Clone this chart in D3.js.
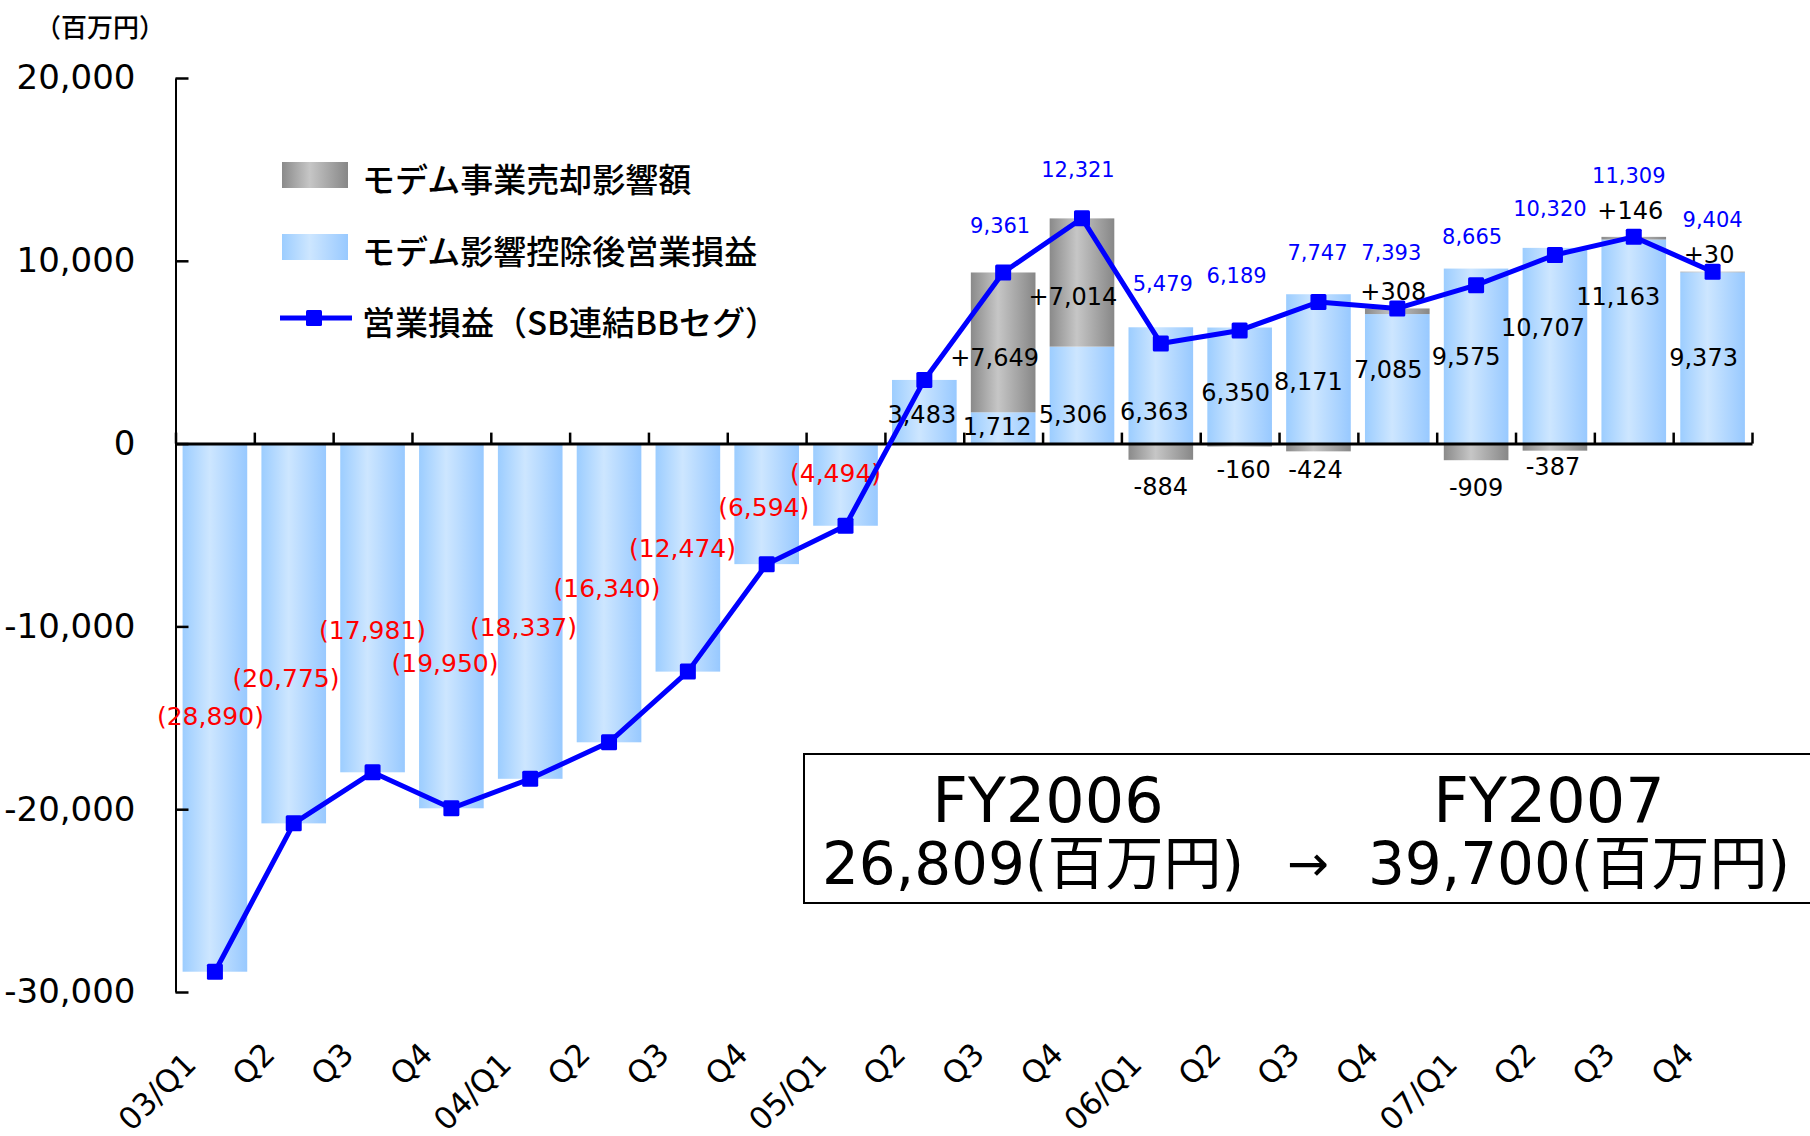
<!DOCTYPE html>
<html><head><meta charset="utf-8">
<script src="https://cdn.jsdelivr.net/npm/d3@7"></script>
<style>body{margin:0;background:#fff}svg{display:block}</style>
</head><body>
<svg id="chart" width="1810" height="1136"></svg>
<script>
// ---------- data ----------
const categories = ["03/Q1","Q2","Q3","Q4","04/Q1","Q2","Q3","Q4","05/Q1","Q2","Q3","Q4","06/Q1","Q2","Q3","Q4","07/Q1","Q2","Q3","Q4"];
// operating income excluding modem impact (blue bars)
const incomeExModem = [-28890,-20775,-17981,-19950,-18337,-16340,-12474,-6594,-4494,3483,1712,5306,6363,6350,8171,7085,9575,10707,11163,9373];
// modem business sale impact (gray bars)
const modemImpact = [0,0,0,0,0,0,0,0,0,0,7649,7014,-884,-160,-424,308,-909,-387,146,30];
// operating income (SB consolidated BB segment) line
const incomeTotal = [-28890,-20775,-17981,-19950,-18337,-16340,-12474,-6594,-4494,3483,9361,12321,5479,6189,7747,7393,8665,10320,11309,9404];
const yTickValues = [-30000,-20000,-10000,0,10000,20000];
const yTickLabels = ["-30,000","-20,000","-10,000","0","10,000","20,000"];
const legendLabels = ["モデム事業売却影響額","モデム影響控除後営業損益","営業損益（SB連結BBセグ）"];
const unitLabel = "（百万円）";
const fyLabels = ["FY2006","FY2007"];
const fyTotals = [26809, 39700];
const fyUnit = "(百万円)";

// ---------- label layout (pixel nudges) ----------
const lossLabelDx = [-4.5,-7.7,0,-6.4,-6.8,-2,-5.4,-3,-10];
const lossLabelDy = [-255,-145,-142,-145,-151,-154,-123,-57,-52];
const totalLabelDx = [-3,-4,2,-3,-1,-6,-4,-5,-5,0];
const totalLabelDy = [-46.5,-48,-59.5,-54.5,-49,-55.5,-48,-46,-61,-51.7];
const barLabelDx = [-2.5,-6,-9,-6.5,-4,-10,-9,-10,-12,-15.5,-9];
const barLabelDy = [-28.6,-16.6,-28.6,-31.6,-50.6,-61.6,-73.6,-86.6,-115.6,-146.6,-85.6];
const modemLabelDx = [-8.5,-9,0,4,-3,-4,0,-2,-3.5,-3.5];
const modemLabelDy = [-85.6,-146.6,43.4,26.4,26.4,-151.6,44.4,23.4,-232.6,-188.6];

const NUM_FONT = "'DejaVu Sans','Noto Sans CJK JP',sans-serif";
const JP_FONT = "'Noto Sans CJK JP','DejaVu Sans',sans-serif";

const svg = d3.select("#chart");
const defs = svg.append("defs");
function grad(id, stops){
  const g = defs.append("linearGradient").attr("id", id).attr("x1","0").attr("x2","1").attr("y1","0").attr("y2","0");
  stops.forEach(([o,c]) => g.append("stop").attr("offset", o).attr("stop-color", c));
}
grad("gBlue", [["0","#9ccdff"],["0.42","#cde6ff"],["1","#98c9ff"]]);
grad("gGray", [["0","#8a8a8a"],["0.42","#c6c6c6"],["1","#878787"]]);

const idx = d3.range(categories.length);
const x = d3.scaleBand().domain(idx).range([175.5, 1752]).paddingInner(0.18).paddingOuter(0.09);
const xc = i => x(i) + x.bandwidth() / 2;
const y = d3.scaleLinear().domain([-30000, 20000]).range([992, 78]);
const fmt = d3.format(",");

// ---------- stacked bars ----------
const rows = idx.map(i => ({i, blue: incomeExModem[i], gray: modemImpact[i]}));
const series = d3.stack().keys(["blue","gray"]).offset(d3.stackOffsetDiverging)(rows);
const fills = {blue: "url(#gBlue)", gray: "url(#gGray)"};
series.forEach(s => {
  svg.append("g").selectAll("rect").data(s.filter(d => d[1] !== d[0])).join("rect")
    .attr("x", d => x(d.data.i))
    .attr("width", x.bandwidth())
    .attr("y", d => y(Math.max(d[0], d[1])))
    .attr("height", d => Math.abs(y(d[0]) - y(d[1])))
    .attr("fill", fills[s.key]);
});

// ---------- axes ----------
const yAxis = d3.axisLeft(y).tickValues(yTickValues).tickSizeInner(-13).tickSizeOuter(0).tickPadding(40)
  .tickFormat(d => yTickLabels[yTickValues.indexOf(d)]);
const gy = svg.append("g").attr("transform", "translate(175.5,0)").call(yAxis);
gy.select(".domain").attr("stroke", "#000").attr("stroke-width", 2);
gy.selectAll(".tick line").attr("stroke", "#000").attr("stroke-width", 2.5);
gy.selectAll("text").attr("font-family", NUM_FONT).attr("font-size", 34).attr("fill", "#000");

const xi = d3.scaleLinear().domain([0, categories.length]).range([175.5, 1752]);
const xAxis = d3.axisBottom(xi).tickValues(d3.range(categories.length + 1)).tickSizeInner(-11).tickSizeOuter(0).tickFormat("");
const gx = svg.append("g").attr("transform", `translate(0,${y(0)})`).call(xAxis);
gx.select(".domain").attr("stroke", "#000").attr("stroke-width", 3);
gx.selectAll(".tick line").attr("stroke", "#000").attr("stroke-width", 2.5);

const catAxis = d3.axisBottom(x).tickSize(0).tickFormat(i => categories[i]);
const gc = svg.append("g").attr("transform", "translate(0,1040)").call(catAxis);
gc.select(".domain").remove();
gc.selectAll("text")
  .attr("font-family", NUM_FONT).attr("font-size", 31).attr("fill", "#000")
  .attr("x", 0).attr("y", 0).attr("dy", 0)
  .attr("text-anchor", "end")
  .attr("transform", i => `translate(-17,${categories[i].includes("/") ? 26 : 16}) rotate(-45)`);

// ---------- labels (under the line) ----------
const lab = svg.append("g").attr("font-family", NUM_FONT).attr("dominant-baseline", "central").attr("text-anchor", "middle");
const lossIdx = idx.filter(i => incomeTotal[i] < 0);
lab.selectAll(".loss").data(lossIdx).join("text").attr("class", "loss")
  .attr("x", (i, k) => xc(i) + lossLabelDx[k])
  .attr("y", (i, k) => y(incomeTotal[i]) + lossLabelDy[k])
  .attr("font-size", 25).attr("fill", "#ff0000")
  .text(i => `(${fmt(-incomeTotal[i])})`);

const modemIdx = idx.filter(i => modemImpact[i] !== 0);
lab.selectAll(".tot").data(modemIdx).join("text").attr("class", "tot")
  .attr("x", (i, k) => xc(i) + totalLabelDx[k])
  .attr("y", (i, k) => y(incomeTotal[i]) + totalLabelDy[k])
  .attr("font-size", 21).attr("fill", "#0000ff")
  .text(i => fmt(incomeTotal[i]));

const posIdx = idx.filter(i => incomeExModem[i] > 0);
lab.selectAll(".bar").data(posIdx).join("text").attr("class", "bar")
  .attr("x", (i, k) => xc(i) + barLabelDx[k])
  .attr("y", (i, k) => y(0) + barLabelDy[k])
  .attr("font-size", 24).attr("fill", "#000")
  .text(i => fmt(incomeExModem[i]));

lab.selectAll(".mod").data(modemIdx).join("text").attr("class", "mod")
  .attr("x", (i, k) => xc(i) + modemLabelDx[k])
  .attr("y", (i, k) => y(0) + modemLabelDy[k])
  .attr("font-size", 24).attr("fill", "#000")
  .text(i => (modemImpact[i] > 0 ? "+" : "-") + fmt(Math.abs(modemImpact[i])));

// ---------- line ----------
const line = d3.line().x(i => xc(i)).y(i => y(incomeTotal[i]));
svg.append("path").datum(idx).attr("d", line).attr("fill", "none")
  .attr("stroke", "#0000ff").attr("stroke-width", 5).attr("stroke-linejoin", "round");
svg.append("g").selectAll("rect").data(idx).join("rect")
  .attr("x", i => xc(i) - 8).attr("y", i => y(incomeTotal[i]) - 8)
  .attr("width", 16).attr("height", 16).attr("rx", 1.5).attr("fill", "#0000ff");

// ---------- unit label ----------
svg.append("text").attr("x", 35).attr("y", 25).attr("dominant-baseline", "central")
  .attr("font-family", JP_FONT).attr("font-weight", 500).attr("font-size", 26).attr("fill", "#000").text(unitLabel);

// ---------- legend ----------
const lg = svg.append("g");
const legY = [175, 247, 318];
lg.append("rect").attr("x", 282).attr("y", legY[0] - 13).attr("width", 66).attr("height", 26).attr("fill", "url(#gGray)");
lg.append("rect").attr("x", 282).attr("y", legY[1] - 13).attr("width", 66).attr("height", 26).attr("fill", "url(#gBlue)");
lg.append("line").attr("x1", 280).attr("x2", 352).attr("y1", legY[2]).attr("y2", legY[2]).attr("stroke", "#0000ff").attr("stroke-width", 5);
lg.append("rect").attr("x", 306).attr("y", legY[2] - 8).attr("width", 16).attr("height", 16).attr("rx", 1.5).attr("fill", "#0000ff");
lg.selectAll("text").data(legendLabels).join("text")
  .attr("x", 362).attr("y", (d, k) => legY[k] + 3).attr("dominant-baseline", "central")
  .attr("font-family", JP_FONT).attr("font-weight", 500).attr("font-size", 33).attr("fill", "#000").text(d => d);

// ---------- FY box ----------
const box = svg.append("g");
box.append("rect").attr("x", 804).attr("y", 754).attr("width", 1100).attr("height", 149)
  .attr("fill", "none").attr("stroke", "#000").attr("stroke-width", 2);
const fyX = [1048, 1549];
box.selectAll(".fy").data(fyLabels).join("text").attr("class", "fy")
  .attr("x", (d, k) => fyX[k]).attr("y", 800).attr("dominant-baseline", "central").attr("text-anchor", "middle")
  .attr("font-family", NUM_FONT).attr("font-size", 62).attr("fill", "#000").text(d => d);
const valX = [1033, 1579];
box.selectAll(".fv").data(fyTotals).join("text").attr("class", "fv")
  .attr("x", (d, k) => valX[k]).attr("y", 864).attr("dominant-baseline", "central").attr("text-anchor", "middle")
  .attr("font-family", NUM_FONT).attr("font-size", 58).attr("fill", "#000").text(d => fmt(d) + fyUnit);
box.append("text").attr("x", 1308).attr("y", 864).attr("dominant-baseline", "central").attr("text-anchor", "middle")
  .attr("font-family", NUM_FONT).attr("font-size", 50).attr("fill", "#000").text("→");
</script>
</body></html>
